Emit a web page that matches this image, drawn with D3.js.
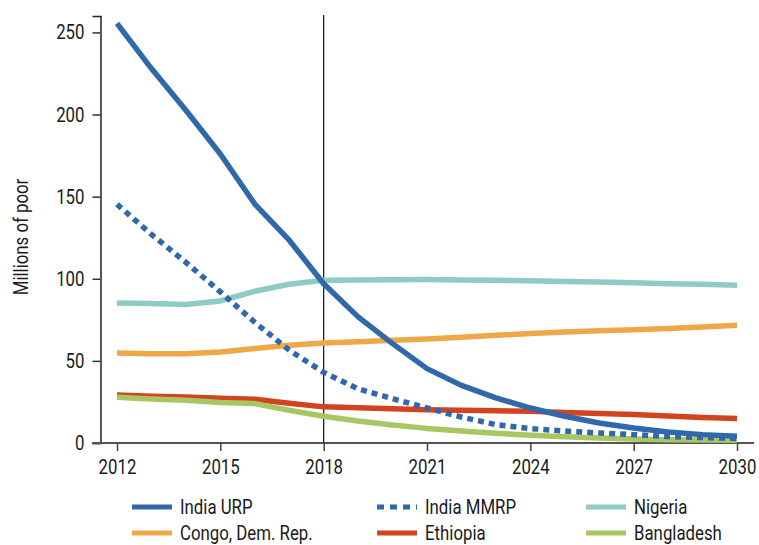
<!DOCTYPE html>
<html><head><meta charset="utf-8">
<script src="https://cdn.jsdelivr.net/npm/d3@7"></script>
<style>
body{margin:0;background:#fff;}
text{font-family:Roboto,"Liberation Sans",sans-serif;fill:#1a1a1a;}
</style></head>
<body><svg id="c" width="759" height="545"></svg>
<script>
const years = d3.range(2012, 2031);
const indiaURP  = [255.5,228,202.6,176,145.5,123.5,97,76.8,60.5,45.3,35.1,27.5,21.3,16.3,12.2,9.1,6.7,5.1,4.1];
const indiaMMRP = [145.4,127,110,92,73.5,56.5,43,33,27,21.3,15.8,11.2,8.8,7.3,6.1,5.1,3.9,3.3,2.8];
const nigeria   = [85.3,84.9,84.3,86.5,92.4,96.7,99.1,99.3,99.4,99.5,99.3,99.1,98.8,98.4,98.0,97.6,97.0,96.6,96.1];
const congo     = [54.8,54.4,54.4,55.4,57.5,59.5,60.9,61.7,62.5,63.3,64.4,65.6,66.7,67.6,68.3,68.9,69.7,70.6,71.7];
const ethiopia  = [29.2,28.5,28.0,27.2,26.6,24.2,22.0,21.4,20.9,20.3,19.9,19.6,19.3,18.6,18.0,17.3,16.4,15.6,14.9];
const bangladesh= [27.8,26.8,26.0,24.6,24.0,19.9,16.3,13.4,11.0,8.9,7.3,5.9,4.7,3.8,3.0,2.4,2.0,1.8,1.6];
const xTicks = [2012,2015,2018,2021,2024,2027,2030];
const yTicks = [0,50,100,150,200,250];
const yTitle = "Millions of poor";
const series = [
  {name:"Nigeria", values:nigeria, color:"#8ecbc4", dash:null},
  {name:"Congo, Dem. Rep.", values:congo, color:"#eea848", dash:null},
  {name:"Ethiopia", values:ethiopia, color:"#d2441f", dash:null},
  {name:"Bangladesh", values:bangladesh, color:"#a8c661", dash:null},
  {name:"India MMRP", values:indiaMMRP, color:"#2f69ab", dash:"6,5"},
  {name:"India URP", values:indiaURP, color:"#2f69ab", dash:null}
];
const legendOrder = ["India URP","India MMRP","Nigeria","Congo, Dem. Rep.","Ethiopia","Bangladesh"];

const SX = 0.82, FS = "20.5px";
const svg = d3.select("#c");
const x = d3.scaleLinear().domain([2012,2030]).range([117,737]);
const y = d3.scaleLinear().domain([0,260]).range([443,16]);

// y axis
const ya = svg.append("g").attr("transform","translate(100.5,0)")
  .call(d3.axisLeft(y).tickValues(yTicks).tickSize(8).tickPadding(4).tickFormat(d3.format("d")));
ya.select(".domain").attr("stroke","#222").attr("stroke-width",1.5);
ya.selectAll(".tick line").attr("stroke","#333").attr("stroke-width",1.5);
ya.selectAll(".tick text").attr("x",null)
  .attr("transform",`translate(-16,0) scale(${SX},1)`)
  .style("font-size",FS).attr("fill","#1a1a1a");

// x axis
const xa = svg.append("g").attr("transform","translate(0,443)")
  .call(d3.axisBottom(x).tickValues(xTicks).tickSize(8).tickPadding(8).tickFormat(d3.format("d")));
xa.select(".domain").attr("d","M92,0H754").attr("stroke","#555").attr("stroke-width",2);
xa.selectAll(".tick line").attr("stroke","#444").attr("stroke-width",1.5);
xa.selectAll(".tick text").attr("transform",`scale(${SX},1)`)
  .style("font-size",FS).attr("fill","#1a1a1a");

// vertical 2018 line
svg.append("line").attr("x1",x(2018)).attr("x2",x(2018)).attr("y1",15).attr("y2",443)
  .attr("stroke","#111").attr("stroke-width",1.2);

// title
svg.append("text").attr("transform",`translate(28,237) rotate(-90) scale(${SX},1)`)
  .attr("text-anchor","middle").style("font-size",FS).text(yTitle);

const line = d3.line().x((d,i)=>x(years[i])).y(d=>y(d)).curve(d3.curveLinear);
series.forEach(s=>{
  svg.append("path").attr("d",line(s.values)).attr("fill","none")
    .attr("stroke",s.color).attr("stroke-width",5.5)
    .attr("stroke-dasharray",s.dash).attr("stroke-linejoin","round");
});

// legend
const legPos = [[132,507],[377,507],[586,507],[132,533],[377,533],[586,533]];
legendOrder.forEach((n,i)=>{
  const s = series.find(d=>d.name===n);
  const [lx,ly] = legPos[i];
  svg.append("line").attr("x1",lx).attr("x2",lx+40).attr("y1",ly).attr("y2",ly)
    .attr("stroke",s.color).attr("stroke-width",5).attr("stroke-dasharray",s.dash?"7,6":null);
  svg.append("text").attr("transform",`translate(${lx+48},${ly}) scale(${SX},1)`).attr("dy","0.35em")
    .style("font-size",FS).text(n);
});
</script></body></html>
